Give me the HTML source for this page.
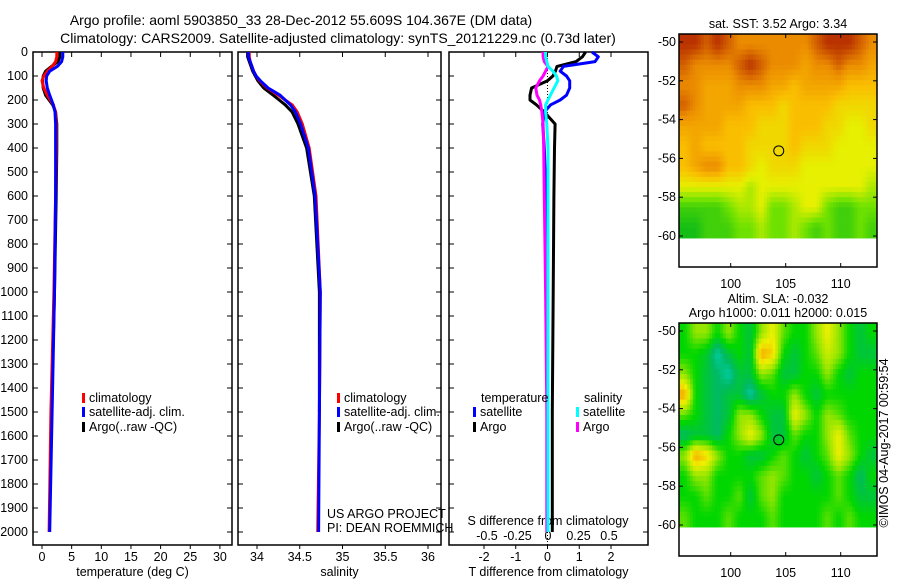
<!DOCTYPE html>
<html><head><meta charset="utf-8"><style>
body{margin:0;background:#fff}
svg text{font-family:"Liberation Sans",sans-serif;font-size:12.5px;fill:#000}
svg text.ttl{font-size:14px}
</style></head><body>
<svg id="fig" width="900" height="580" viewBox="0 0 900 580" xmlns="http://www.w3.org/2000/svg">
<text class="ttl" x="301" y="25" text-anchor="middle">Argo profile: aoml 5903850_33 28-Dec-2012 55.609S 104.367E (DM data)</text>
<text class="ttl" x="338" y="43" text-anchor="middle">Climatology: CARS2009. Satellite-adjusted climatology: synTS_20121229.nc (0.73d later)</text>
<g id="g"></g>
</svg>
<script>
// ---- data ----
const depthTicks=[0,100,200,300,400,500,600,700,800,900,1000,1100,1200,1300,1400,1500,1600,1700,1800,1900,2000];
const depths=[0,20,40,60,80,100,120,150,180,200,220,250,300,400,600,1000,1500,2000];
const tempClim=[2.5,2.5,2.3,1.7,0.9,0.3,0.0,0.3,0.9,1.4,1.9,2.3,2.4,2.4,2.3,2.0,1.5,1.2];
const tempSat=[3.5,3.5,3.3,2.6,1.3,0.8,0.7,0.9,1.3,1.6,1.9,2.2,2.3,2.3,2.3,2.1,1.7,1.3];
const tempArgo=[3.0,3.0,2.7,1.6,0.6,0.2,0.1,0.2,0.6,1.2,1.8,2.3,2.5,2.5,2.4,2.1,1.6,null];
const salClim=[33.91,33.91,33.92,33.94,33.96,33.99,34.03,34.12,34.25,34.33,34.41,34.47,34.53,34.61,34.69,34.74,34.73,34.71];
const salSat=[33.90,33.90,33.92,33.94,33.96,33.99,34.04,34.13,34.27,34.33,34.39,34.45,34.51,34.60,34.68,34.74,34.73,34.72];
const salArgo=[33.89,33.89,33.91,33.93,33.95,33.98,34.01,34.08,34.19,34.26,34.33,34.41,34.48,34.58,34.67,34.73,34.73,null];
const tdSat=[1.4,1.6,1.5,0.5,0.4,0.6,0.7,0.7,0.6,0.4,0.1,-0.1,-0.15,-0.1,-0.05,-0.02,0.0,0.0];
const tdArgo=[1.2,1.1,0.9,0.3,0.25,0.17,0.0,-0.5,-0.55,-0.55,-0.35,-0.1,0.24,0.22,0.2,0.18,0.15,0.15];
const sdSat=[-0.02,-0.02,-0.01,0.0,0.04,0.07,0.08,0.05,0.02,0.0,-0.02,-0.02,-0.01,0.0,0.0,0.0,0.0,0.0];
const sdArgo=[-0.04,-0.04,-0.03,0.0,-0.02,-0.04,-0.07,-0.1,-0.09,-0.07,-0.06,-0.05,-0.04,-0.035,-0.03,-0.02,-0.01,-0.01];
const tTicks=[0,5,10,15,20,25,30];
const sTicks=[34,34.5,35,35.5,36];
const tdTicks=[-2,-1,0,1,2];
const sdTicks=[-0.5,-0.25,0,0.25,0.5];
const sstGrid=[
[6,6,5.5,6,5.5,5,5,5,5,5,5,5,5.5,6,6,6,5.5,5],
[5.5,5,5,5,5,5.5,6,5.5,5,5,5,4.5,5,5,5.5,5,5,4.5],
[5,5,4.5,4.5,4.5,5,5,5,4.5,4.5,4,4.5,4.5,4.5,4.5,4,4,4],
[5.5,5,4.5,4.5,4.5,4.5,4,4,4,3.5,4,4,4,4,3.5,3.5,3.5,3.5],
[4.5,4.5,4.5,4.5,4,4,4,3.5,3.5,3.5,4,4,4,3.5,3.5,3,3,3.5],
[4,4.5,4,4,4,4,3.5,3.5,3.5,3.5,4,3.5,3.5,3.5,3,3,3,3],
[4,4.5,5,5,4,4,3.5,3,3.5,3.5,3.5,3,3,3,3,3,3,3],
[3,3,3,3,3,3,2.5,3,3,3,3,3,3,3,3,3,3,2.5],
[1.5,1.5,1.5,1.5,2,2.5,2.5,3,2,2,2.5,3,3,2,1.5,1.5,2,2],
[1,1,1.5,1.5,1.5,2,2,2.5,2,2,2.5,2,1.5,2,1.5,1.5,2,1.5]];
const slaGrid=[
[0,0.5,0.5,0,0.5,0,-0.3,0.5,1,0.3,0,0,0.5,1,0.5,0,-0.3,0],
[0,0,-0.2,-0.8,-0.3,0,-0.3,1.5,1.2,0,-0.3,0,0.3,0.8,0.5,0,-0.3,-0.3],
[0.5,0,-0.3,-0.5,-0.8,-0.3,-0.3,0.5,0.3,-0.3,-0.3,0,0,0.5,0,-0.3,0,0],
[1.5,0,-0.3,-0.5,-0.3,-0.3,-0.8,-0.3,0,0,0.5,0,-0.3,0,0,0,0,0],
[0.3,0,-0.3,-0.5,-0.3,0.5,0.5,0,-0.3,-0.3,1,0.5,0,0.5,0.3,0,0,0],
[-0.5,-0.3,-0.3,-0.5,0,0.5,1,0.5,-0.3,-0.3,0.3,0,0,0.5,1,0.3,0,0],
[0.5,1.5,1.2,0.5,0,0,-0.3,-0.3,0,0.3,0,-0.3,0,0.3,1,0.5,0,-0.3],
[0,0.5,0.5,0,0,0,0,0.3,0.5,0.3,0,0,-0.3,0,0.3,0,-0.5,0],
[0,0,0.3,0,0,0.3,-0.3,0.3,0.5,0,0,0,0,0,0.3,0,-0.3,-0.3],
[0.3,0,0,0,0.3,0,0,0,0.3,0,0,0,0,0.3,0,0.3,0,0]];
const lonTicks=[100,105,110];
const latTicks=[-50,-52,-54,-56,-58,-60];
const argoLon=104.367, argoLat=-55.609;

// ---- helpers ----
const NS="http://www.w3.org/2000/svg";
const G=document.getElementById('g');
function el(t,a,p){const e=document.createElementNS(NS,t);for(const k in a)e.setAttribute(k,a[k]);(p||G).appendChild(e);return e;}
function txt(x,y,s,anchor){const e=el('text',{x:x,y:y,'text-anchor':anchor||'start'});e.textContent=s;return e;}
const pTop=52,yD=d=>pTop+d*0.24,bot=545;

function panel(name,x0,x1,xs,ticks,tlabels,xlabel){
  const r=el('rect',{x:x0,y:pTop,width:x1-x0,height:bot-pTop,fill:'none',stroke:'#000','stroke-width':1.5});
  
  
  depthTicks.forEach(d=>{el('line',{x1:x0,x2:x0+5,y1:yD(d),y2:yD(d),stroke:'#000'});el('line',{x1:x1,x2:x1-5,y1:yD(d),y2:yD(d),stroke:'#000'});});
  ticks.forEach((v,i)=>{const x=xs(v);el('line',{x1:x,x2:x,y1:pTop,y2:pTop+5,stroke:'#000'});el('line',{x1:x,x2:x,y1:bot,y2:bot+4,stroke:'#000'});
    if(tlabels){const t=txt(x,561,tlabels[i],'middle');}});
  if(xlabel){const t=txt((x0+x1)/2,576,xlabel,'middle');}
}
function line(name,xs,vals,color,w){
  const pts=[];vals.forEach((v,i)=>{if(v!==null)pts.push(xs(v).toFixed(1)+','+yD(depths[i]).toFixed(1));});
  const p=el('polyline',{points:pts.join(' '),fill:'none',stroke:color,'stroke-width':w||3,'stroke-linejoin':'round'});
  
  
}
function legend(x,y,color,label,name){
  el('rect',{x:x,y:y-9,width:3,height:10,fill:color});
  const t=txt(x+7,y,label);
}

depthTicks.forEach(d=>{const t=txt(28,yD(d)+4,String(d),'end');});

const xT=v=>42+v*5.93;
panel('temperature-panel',33,232,xT,tTicks,tTicks.map(String),'temperature (deg C)');
line('temp-argo-line',xT,tempArgo,'#000');
line('temp-clim-line',xT,tempClim,'#f00');
line('temp-sat-line',xT,tempSat,'#00f');
legend(82,402,'#f00','climatology','legend-climatology');
legend(82,416,'#00f','satellite-adj. clim.','legend-satellite');
legend(82,431,'#000','Argo(..raw -QC)','legend-argo');

const xS=v=>257+(v-34)*85.5;
panel('salinity-panel',238,441,xS,sTicks,['34','34.5','35','35.5','36'],'salinity');
line('sal-argo-line',xS,salArgo,'#000');
line('sal-clim-line',xS,salClim,'#f00');
line('sal-sat-line',xS,salSat,'#00f');
legend(337,402,'#f00','climatology','legend-climatology-2');
legend(337,416,'#00f','satellite-adj. clim.','legend-satellite-2');
legend(337,431,'#000','Argo(..raw -QC)','legend-argo-2');
txt(327,518,'US ARGO PROJECT');
txt(327,532,'PI: DEAN ROEMMICH');

const xTd=v=>547.5+v*31.75, xSd=v=>548+v*122;
panel('difference-panel',449,648,xTd,tdTicks,['-2','-1','0','1','2'],'T difference from climatology');
sdTicks.forEach((v,i)=>{const t=txt(xSd(v),540,['-0.5','-0.25','0','0.25','0.5'][i],'middle');});
txt(548,525,'S difference from climatology','middle');
el('line',{x1:xTd(0),x2:xTd(0),y1:pTop,y2:bot,stroke:'#000','stroke-dasharray':'1,2'});
line('tdiff-argo-line',xTd,tdArgo,'#000');
line('tdiff-sat-line',xTd,tdSat,'#00f');
line('sdiff-argo-line',xSd,sdArgo,'#f0f');
line('sdiff-sat-line',xSd,sdSat,'#0ff');
txt(481,402,'temperature');
txt(584,402,'salinity');
legend(473,416,'#00f','satellite','legend-t-satellite');
legend(473,431,'#000','Argo','legend-t-argo');
legend(576,416,'#0ff','satellite','legend-s-satellite');
legend(576,431,'#f0f','Argo','legend-s-argo');

function interp(stops,v){for(let i=0;i<stops.length-1;i++){const a=stops[i],b=stops[i+1];if(v<=b[0]){const f=Math.max(0,(v-a[0])/(b[0]-a[0]));return 'rgb('+[1,2,3].map(k=>Math.round(a[k]+f*(b[k]-a[k]))).join(',')+')';}}const l=stops[stops.length-1];return 'rgb('+l[1]+','+l[2]+','+l[3]+')';}
const sstStops=[[1,20,190,20],[2,110,225,0],[3,230,240,0],[4,250,190,0],[5,235,140,0],[6,185,50,0]];
const slaStops=[[-1,0,220,210],[-0.5,0,185,100],[0,0,215,0],[0.5,150,230,0],[1,240,240,0],[1.5,245,165,0]];
function sample(grid,r,c){
  const R=grid.length,C=grid[0].length;
  r=Math.max(0,Math.min(R-1,r));c=Math.max(0,Math.min(C-1,c));
  const r0=Math.floor(r),c0=Math.floor(c),r1=Math.min(R-1,r0+1),c1=Math.min(C-1,c0+1),fr=r-r0,fc=c-c0;
  return grid[r0][c0]*(1-fr)*(1-fc)+grid[r0][c1]*(1-fr)*fc+grid[r1][c0]*fr*(1-fc)+grid[r1][c1]*fr*fc;
}
function map(name,y0,grid,stops,titles){
  const x0=679,x1=877,lonX=v=>679+(v-95.3)*11,latY=v=>y0+8+(-50-v)*19.4;
  const gTop=latY(-49.6),S=4,R=grid.length,C=grid[0].length;
  const ch=(latY(-60.1)-gTop)/(R*S),cw=(x1-x0)/(C*S);
  for(let r=0;r<R*S;r++)for(let c=0;c<C*S;c++){
    const v=sample(grid,(r+0.5)/S-0.5,(c+0.5)/S-0.5);
    const cell=el('rect',{x:(x0+c*cw).toFixed(2),y:(gTop+r*ch).toFixed(2),width:(cw+0.5).toFixed(2),height:(ch+0.5).toFixed(2),fill:interp(stops,v)});
    
    
  }
  const f=el('rect',{x:x0,y:y0,width:x1-x0,height:233,fill:'none',stroke:'#000','stroke-width':1.5});
  
  
  lonTicks.forEach(v=>{const x=lonX(v);el('line',{x1:x,x2:x,y1:y0,y2:y0+4,stroke:'#000'});el('line',{x1:x,x2:x,y1:y0+233,y2:y0+229,stroke:'#000'});
    const t=txt(x,y0+254,String(v),'middle');});
  latTicks.forEach(v=>{const y=latY(v);el('line',{x1:x0,x2:x0+4,y1:y,y2:y,stroke:'#000'});el('line',{x1:x1,x2:x1-4,y1:y,y2:y,stroke:'#000'});
    const t=txt(676,y+4,String(v),'end');});
  const c=el('circle',{cx:lonX(argoLon),cy:latY(argoLat),r:5,fill:'none',stroke:'#000','stroke-width':1});
  
  
  titles.forEach((s,i)=>{const t=txt(778,y0-20+i*14-(titles.length-1)*14+14,s,'middle');});
}
map('sst-map',34,sstGrid,sstStops,['sat. SST: 3.52 Argo: 3.34']);
map('sla-map',323,slaGrid,slaStops,['Altim. SLA: -0.032','Argo h1000: 0.011 h2000: 0.015']);
const cp=txt(0,0,'\u00A9IMOS 04-Aug-2017 00:59:54','middle');
cp.setAttribute('transform','translate(888,443) rotate(-90)');


</script>
</body></html>
